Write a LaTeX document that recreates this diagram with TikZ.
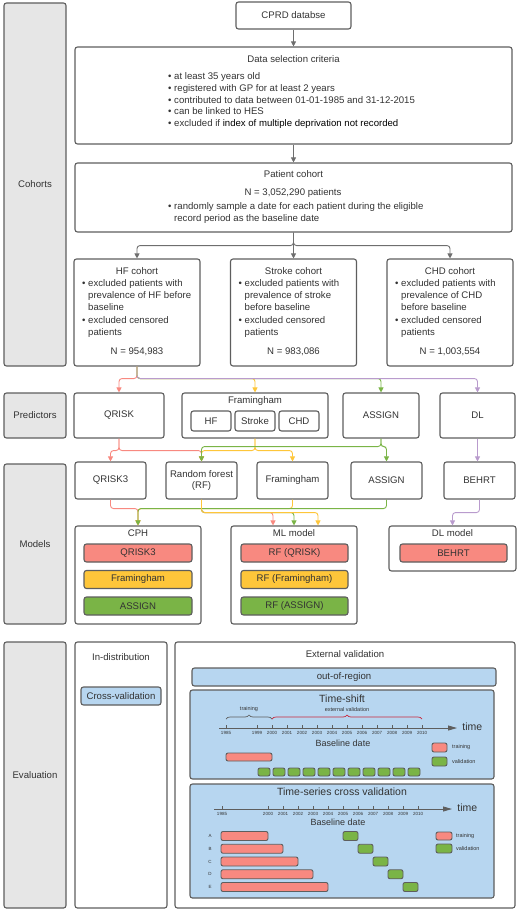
\documentclass[tikz,border=0pt]{standalone}
\usepackage{fontspec}
\setmainfont{Liberation Sans}
\usepackage{tikz}
\usetikzlibrary{calc}
\usetikzlibrary{arrows.meta}
\usetikzlibrary{decorations.pathreplacing}

\definecolor{edge}{RGB}{94,94,94}
\definecolor{ink}{RGB}{51,51,51}
\definecolor{labelgray}{RGB}{230,230,230}
\definecolor{lineg}{RGB}{110,110,110}
\definecolor{qred}{RGB}{248,137,128}
\definecolor{fyellow}{RGB}{254,198,58}
\definecolor{agreen}{RGB}{122,180,70}
\definecolor{dlpurple}{RGB}{185,155,205}
\definecolor{evblue}{RGB}{183,214,240}
\definecolor{bracered}{RGB}{200,40,60}

\tikzset{
	box/.style={draw=edge, line width=1.1pt, rounded corners=2.5pt, fill=white, inner sep=0pt, text=ink, align=center, font=\fontsize{9.6}{11.8}\selectfont},
	sidebox/.style={box, fill=labelgray, minimum width=62pt},
	chip/.style={box, minimum height=18pt},
	txt/.style={inner sep=0pt, text=ink, text height=7pt, text depth=2pt, font=\fontsize{9.6}{11.8}\selectfont},
	bigtxt/.style={txt, font=\fontsize{10.5}{12}\selectfont},
	yeartxt/.style={inner sep=0pt, text=ink, font=\fontsize{4.5}{5}\selectfont},
	legtxt/.style={inner sep=0pt, text=ink, font=\fontsize{5.5}{6}\selectfont},
	wire/.style={line width=0.9pt, rounded corners=3pt, -{Triangle[width=5pt,length=5pt]}},
	axis/.style={draw=edge, line width=0.8pt, -{Triangle[width=5pt,length=9pt]}},
	tsbar/.style={draw=edge, line width=0.9pt, rounded corners=2pt},
}

\begin{document}
\begin{tikzpicture}[x=1pt, y=-1pt]
	\useasboundingbox (0,0) rectangle (520,912);

	\node[sidebox, minimum height=363pt] (cohorts) at (35,184.5) {Cohorts};
	\node[sidebox, minimum height=45pt] (predictors) at (35,415.5) {Predictors};
	\node[sidebox, minimum height=160pt] (models) at (35,544) {Models};
	\node[sidebox, minimum height=266pt] (evaluation) at (35,775) {Evaluation};

	\node[box, minimum width=115pt, minimum height=27pt] (cprd) at (293.5,15.5) {CPRD databse};
	\node[box, minimum width=437pt, minimum height=97pt] (criteria) at (293.5,95.5) {};
	\node[txt] (criteria-title) at (293.5,60) {Data selection criteria};
	\foreach \line [count=\k] in {at least 35 years old, registered with GP for at least 2 years, contributed to data between 01-01-1985 and 31-12-2015, can be linked to HES, excluded if \textcolor{black}{index of multiple deprivation not recorded}}
		\node[txt, anchor=west] (criteria\k) at (168, 65.2+11.8*\k) {• \line};

	\node[box, minimum width=437pt, minimum height=69pt] (patients) at (293.5,197.5) {};
	\node[txt] (patients-title) at (293.5,175) {Patient cohort};
	\node[txt] (patients-n) at (293,193) {N = 3,052,290 patients};
	\node[txt, anchor=west] (patients1) at (168,207) {• randomly sample a date for each patient during the eligible};
	\node[txt, anchor=west] (patients2) at (174,218.5) {record period as the baseline date};

	\foreach \name/\cx/\title/\lineb/\linec/\n in {hf/137/HF cohort/prevalence of HF before/baseline/{954,983}, stroke/293.5/Stroke cohort/prevalence of stroke/before baseline/{983,086}, chd/450/CHD cohort/prevalence of CHD/before baseline/{1,003,554}}
	{
		\node[box, minimum width=126pt, minimum height=107pt] (\name) at (\cx,312.5) {};
		\node[txt] (\name-title) at (\cx,272) {\title};
		\node[txt, anchor=west] (\name-a) at (\cx-55,284) {• excluded patients with};
		\node[txt, anchor=west] (\name-b) at (\cx-49,296) {\lineb};
		\node[txt, anchor=west] (\name-c) at (\cx-49,308) {\linec};
		\node[txt, anchor=west] (\name-d) at (\cx-55,321) {• excluded censored};
		\node[txt, anchor=west] (\name-e) at (\cx-49,333) {patients};
		\node[txt] (\name-n) at (\cx,352) {N = \n};
	}

	\draw[wire, lineg] (cprd.south) -- (criteria.north);
	\draw[wire, lineg] (criteria.south) -- (patients.north);
	\draw[wire, lineg] (patients.south) -- (stroke.north);
	\foreach \name in {hf, chd}
		\draw[wire, lineg] (patients.south) -- ++(0,13) -| (\name.north);

	\node[box, minimum width=90pt, minimum height=45pt] (qrisk) at (119,415.5) {QRISK};
	\node[box, minimum width=146pt, minimum height=45pt] (framingham) at (255,415.5) {};
	\node[txt] (framingham-title) at (255,401) {Framingham};
	\foreach \name/\cx in {HF/211, Stroke/255, CHD/299}
		\node[box, minimum width=40pt, minimum height=20pt] (fr\name) at (\cx,421) {\name};
	\node[box, minimum width=76pt, minimum height=45pt] (assign) at (381,415.5) {ASSIGN};
	\node[box, minimum width=75pt, minimum height=45pt] (dl) at (477.5,415.5) {DL};

	\draw[wire, qred] (hf.south) -- ++(0,12) -| (qrisk.north);
	\draw[wire, fyellow] (hf.south) -- ++(0,12) -| (framingham.north);
	\draw[wire, agreen] (hf.south) -- ++(0,12) -| (assign.north);
	\draw[wire, dlpurple] (hf.south) -- ++(0,12) -| (dl.north);

	\foreach \name/\cx/\label in {qrisk3/110.5/QRISK3, rf/201.5/{Random forest\\(RF)}, framm/292.5/Framingham, assignm/386.5/ASSIGN, behrt/479.5/BEHRT}
		\node[box, minimum width=71pt, minimum height=37pt] (\name) at (\cx,480.5) {\label};

	\draw[wire, qred] (qrisk.south) -- ++(0,12) -| (qrisk3.north);
	\draw[wire, qred] (qrisk.south) -- ++(0,12) -| (rf.north);
	\draw[wire, fyellow] (framingham.south) -- ++(0,12) -| (framm.north);
	\draw[wire, fyellow] (framingham.south) -- ++(0,12) -| (rf.north);
	\draw[wire, agreen] (assign.south) -- ++(0,8) -| (assignm.north);
	\draw[wire, agreen] (assign.south) -- ++(0,8) -| (rf.north);
	\draw[wire, dlpurple] (dl.south) -- (dl.south |- behrt.north);

	\node[box, minimum width=126pt, minimum height=98pt] (cph) at (138,575) {};
	\node[txt] (cph-title) at (138,534) {CPH};
	\node[box, minimum width=126pt, minimum height=98pt] (ml) at (294,575) {};
	\node[txt] (ml-title) at (294,534) {ML model};
	\foreach \col/\cy/\a/\b [count=\k] in {qred/553/QRISK3/RF (QRISK), fyellow/579.5/Framingham/RF (Framingham), agreen/606/ASSIGN/RF (ASSIGN)}
	{
		\node[chip, fill=\col, minimum width=108pt] (cph\k) at (138,\cy) {\a};
		\node[chip, fill=\col, minimum width=107pt] (ml\k) at (294.5,\cy) {\b};
	}
	\node[box, minimum width=127pt, minimum height=45pt] (dlmodel) at (452.5,548.5) {};
	\node[txt] (dlmodel-title) at (452.5,534) {DL model};
	\node[chip, fill=qred, minimum width=107pt] (dlmodel1) at (453.5,553) {BEHRT};

	\draw[wire, qred] (qrisk3.south) -- ++(0,9) -| (cph.north);
	\draw[wire, fyellow] (framm.south) -- ++(0,9) -| (cph.north);
	\draw[wire, agreen] (assignm.south) -- ++(0,9) -| (cph.north);
	\draw[wire, qred] (rf.south) -- ++(0,13) -| ($(ml.north)+(-21,0)$);
	\draw[wire, agreen] (rf.south) -- ++(0,13) -| (ml.north);
	\draw[wire, fyellow] (rf.south) -- ++(0,13) -| ($(ml.north)+(24,0)$);
	\draw[wire, dlpurple] (behrt.south) -- ++(0,13) -| (dlmodel.north);

	\node[box, minimum width=92pt, minimum height=266pt] (indist) at (121,775) {};
	\node[txt] (indist-title) at (121,658) {In-distribution};
	\node[chip, fill=evblue, minimum width=80pt] (crossval) at (121,696) {Cross-validation};
	\node[box, minimum width=340pt, minimum height=266pt] (external) at (345,775) {};
	\node[txt] (external-title) at (345,655) {External validation};
	\node[chip, fill=evblue, minimum width=304pt] (region) at (344,677) {out-of-region};

	\node[box, fill=evblue, minimum width=304pt, minimum height=89pt] (timeshift) at (342,734.5) {};
	\node[bigtxt] (timeshift-title) at (342,700) {Time-shift};
	\draw[edge, line width=0.7pt, decorate, decoration={brace, amplitude=4pt}] (226,719) -- (272,719) node[legtxt, midway, above=7pt] (ts-train) {training};
	\draw[bracered, line width=0.7pt, decorate, decoration={brace, amplitude=4pt}] (272,719) -- (422,719) node[legtxt, midway, above=7pt] (ts-ext) {external validation};
	\draw[axis] (219,728) -- (457,728) node[bigtxt, anchor=west, xshift=5pt] (ts-time) {time};
	\draw[edge, line width=0.6pt] (226,725) -- (226,728) node[yeartxt, below=3pt] (ts1985) {1985};
	\foreach \yr in {1999,...,2010}
		\draw[edge, line width=0.6pt] ({257+15*(\yr-1999)},725) -- ({257+15*(\yr-1999)},728) node[yeartxt, below=3pt] (ts\yr) {\yr};
	\node[txt, font=\fontsize{9}{10}\selectfont] (ts-base) at (343,744) {Baseline date};
	\draw[tsbar, fill=qred] (226,753) rectangle (272,761);
	\foreach \yr in {1999,...,2009}
		\draw[tsbar, fill=agreen] ({258+15*(\yr-1999)},768) rectangle ({270+15*(\yr-1999)},776);
	\draw[tsbar, fill=qred] (432,743) rectangle (447,752);
	\node[legtxt, anchor=west] (ts-legtrain) at (452,747.5) {training};
	\draw[tsbar, fill=agreen] (432,757) rectangle (447,766);
	\node[legtxt, anchor=west] (ts-legval) at (452,761.5) {validation};

	\node[box, fill=evblue, minimum width=304pt, minimum height=114pt] (tscv) at (342,841) {};
	\node[bigtxt] (tscv-title) at (342,793) {Time-series cross validation};
	\draw[axis] (214,809) -- (452,809) node[bigtxt, anchor=west, xshift=5pt] (cv-time) {time};
	\draw[edge, line width=0.6pt] (222,806) -- (222,809) node[yeartxt, below=3pt] (cv1985) {1985};
	\foreach \yr in {2000,...,2010}
		\draw[edge, line width=0.6pt] ({268+15*(\yr-2000)},806) -- ({268+15*(\yr-2000)},809) node[yeartxt, below=3pt] (cv\yr) {\yr};
	\node[txt, font=\fontsize{9}{10}\selectfont] (cv-base) at (338,823) {Baseline date};
	\foreach \row [count=\k from 0] in {A,B,C,D,E}
	{
		\pgfmathsetmacro\ry{836+12.75*\k}
		\node[yeartxt] (row\row) at (210,\ry) {\row};
		\draw[tsbar, fill=qred] (221,\ry-4.5) rectangle ({268+15*\k},\ry+4.5);
		\draw[tsbar, fill=agreen] ({343+15*\k},\ry-4.5) rectangle ({358+15*\k},\ry+4.5);
	}
	\draw[tsbar, fill=qred] (436,832) rectangle (452,840);
	\node[legtxt, anchor=west] (cv-legtrain) at (456,836) {training};
	\draw[tsbar, fill=agreen] (436,844) rectangle (452,853);
	\node[legtxt, anchor=west] (cv-legval) at (456,848.5) {validation};
\end{tikzpicture}
\end{document}
